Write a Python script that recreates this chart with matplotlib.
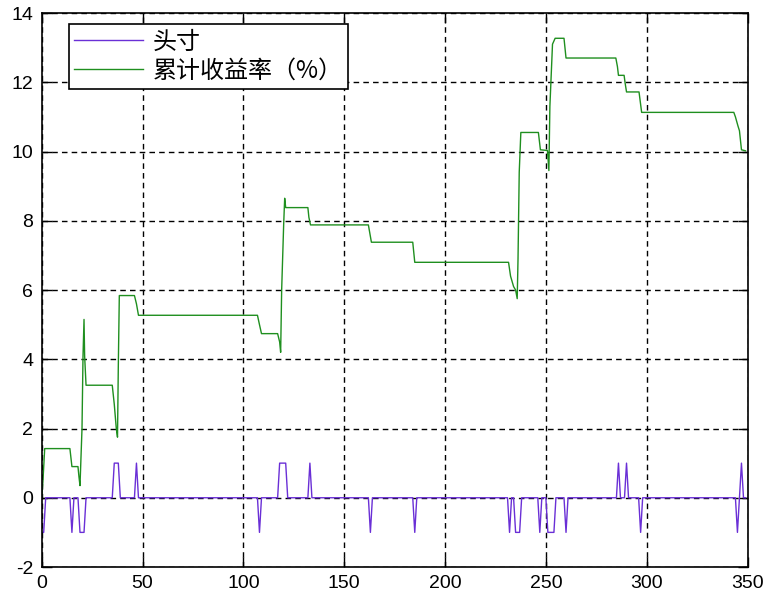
import numpy as np
import matplotlib
matplotlib.use('Agg')
import matplotlib.pyplot as plt

plt.rcParams['font.family'] = ['Liberation Sans', 'Noto Sans CJK SC', 'DejaVu Sans']
plt.rcParams['axes.unicode_minus'] = False

# position (头寸): vertices
pos_x = [0, 1, 2, 14, 15, 16, 18, 19, 21, 22, 35, 36, 38, 39, 46, 47, 48,
         107, 108, 109, 117, 118, 121, 122, 132, 133, 134, 162, 163, 164,
         184, 185, 186, 231, 232, 233, 234, 235, 237, 238, 246, 247, 248,
         250, 251, 254, 255, 259, 260, 261, 285, 286, 287, 289, 290, 291,
         296, 297, 298, 344, 345, 346, 347, 348, 349]
pos_y = [-1, -1, 0, 0, -1, 0, 0, -1, -1, 0, 0, 1, 1, 0, 0, 1, 0,
         0, -1, 0, 0, 1, 1, 0, 0, 1, 0, 0, -1, 0,
         0, -1, 0, 0, -1, 0, 0, -1, -1, 0, 0, -1, 0,
         0, -1, -1, 0, 0, -1, 0, 0, 1, 0, 0, 1, 0,
         0, -1, 0, 0, -1, 0, 1, 0, 0]

# cumulative return (累计收益率 %): vertices
ret_x = [0, 0.6, 1.5, 14, 15, 18, 18.5, 19, 20, 20.5, 21, 21.3, 22, 35, 36, 37,
         37.6, 38, 38.5, 46, 47, 48, 107, 108, 109, 117, 118, 118.5, 119,
         120, 120.5, 121, 132, 132.5, 133.3, 162, 163.5, 184, 185, 231.5,
         232.5, 234, 235, 235.8, 236.2, 236.8, 237.6, 246.3, 247.3, 250.8,
         251.5, 252, 253.3, 254.6, 259, 260, 284.7, 285.5, 286, 288.8,
         289.3, 290, 296.2, 297.5, 343.2, 344, 345.3, 346, 347, 349]
ret_y = [0.0, 0.45, 1.42, 1.42, 0.9, 0.9, 0.6, 0.35, 2.0, 4.1, 5.15, 4.1,
         3.25, 3.25, 2.7, 2.0, 1.75, 3.8, 5.84, 5.84, 5.6, 5.27, 5.27, 5.0,
         4.74, 4.74, 4.5, 4.2, 6.0, 7.9, 8.65, 8.38, 8.38, 8.1, 7.88, 7.88,
         7.38, 7.38, 6.8, 6.8, 6.4, 6.1, 6.0, 5.75, 6.9, 9.4, 10.55, 10.55,
         10.05, 10.03, 9.45, 11.3, 13.1, 13.27, 13.27, 12.7, 12.7, 12.45,
         12.2, 12.2, 11.98, 11.72, 11.72, 11.13, 11.13, 11.0, 10.73, 10.6,
         10.05, 10.02]

labels = ['头寸', '累计收益率（%）']

fig = plt.figure(figsize=(7.76, 6.05), dpi=100)
fig.patch.set_facecolor('white')
ax = fig.add_axes([0.0537, 0.0628, 0.9096, 0.9157])

ax.plot(pos_x, pos_y, color='#6a2fd6', linewidth=1.0, label=labels[0])
ax.plot(ret_x, ret_y, color='#1f8f1f', linewidth=1.0, label=labels[1])

ax.set_xlim(0, 350)
ax.set_ylim(-2, 14)
ax.set_xticks(np.arange(0, 351, 50))
ax.set_yticks(np.arange(-2, 15, 2))
ax.tick_params(direction='in', top=True, right=True, length=7, width=1,
               labelsize=14, pad=6)
ax.grid(True, color='black', linestyle=(0, (4, 3)), linewidth=1)
for s in ax.spines.values():
    s.set_linewidth(1.2)

leg = ax.legend(loc='upper left', bbox_to_anchor=(0.0387, 0.98),
                borderaxespad=0, fancybox=False,
                framealpha=1, edgecolor='black', handlelength=2.9,
                handletextpad=0.4, borderpad=0.2, labelspacing=0.12,
                prop={'family': ['Noto Sans CJK SC', 'DejaVu Sans'], 'size': 17.3})
leg.get_frame().set_linewidth(1.2)

fig.savefig('out.png', dpi=100, facecolor='white')
